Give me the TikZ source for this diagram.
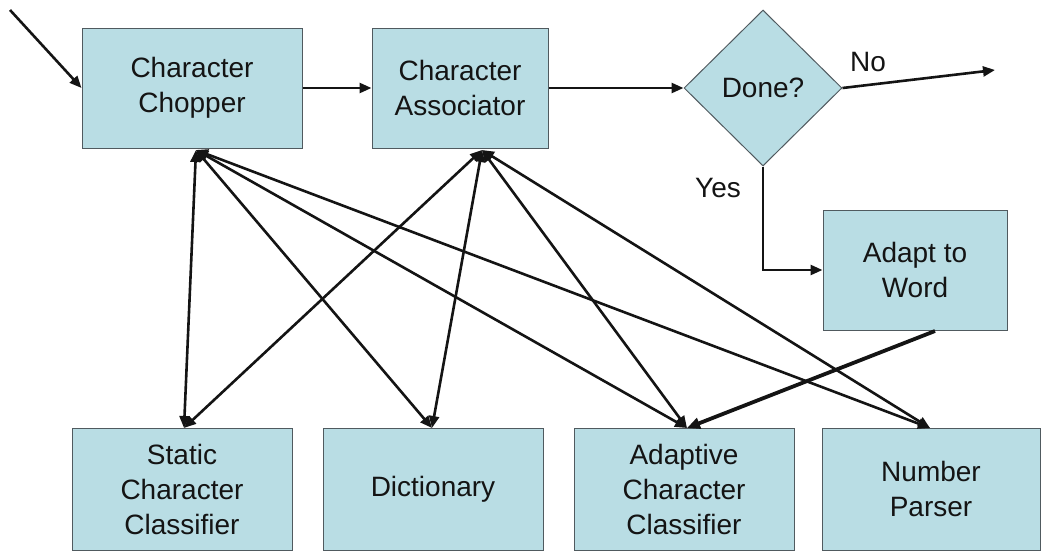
\documentclass[tikz,border=0pt]{standalone}
\usepackage{fontspec}
\setmainfont{Liberation Sans}
\usetikzlibrary{arrows.meta,shapes.geometric}
\definecolor{boxfill}{RGB}{185,221,228}
\definecolor{boxline}{RGB}{80,90,95}
\definecolor{ink}{RGB}{20,20,20}
\begin{document}
\begin{tikzpicture}[x=1pt,y=-1pt,
  stage/.style={draw=boxline, line width=1pt, fill=boxfill, text=ink,
    font=\fontsize{28}{35}\selectfont, align=center, inner sep=0pt,
    minimum height=120pt},
  tag/.style={text=ink, font=\fontsize{28}{35}\selectfont, inner sep=0pt},
  flow/.style={draw=ink, line width=2.6pt, -{Triangle[length=12pt,width=10pt]}},
  link/.style={draw=ink, line width=2.6pt,
    {Triangle[length=12pt,width=10pt]}-{Triangle[length=12pt,width=10pt]}},
]
\useasboundingbox (0,0) rectangle (1041,552);

% processing stages
\node[stage, minimum width=220pt] (chop)  at (192,88)  {Character\\Chopper};
\node[stage, minimum width=176pt] (assoc) at (460,88)  {Character\\Associator};
\node[diamond, draw=boxline, line width=1pt, fill=boxfill, text=ink,
      font=\fontsize{28}{35}\selectfont, inner sep=0pt, aspect=1,
      minimum width=158pt, minimum height=156pt] (done) at (763,88) {Done?};
\node[stage, minimum width=184pt] (adapt) at (915,270) {Adapt to\\Word};

% knowledge sources
\node[stage, minimum width=220pt, minimum height=122pt] (static)   at (182,489) {Static\\Character\\Classifier};
\node[stage, minimum width=220pt, minimum height=122pt] (dict)     at (433,489) {Dictionary};
\node[stage, minimum width=220pt, minimum height=122pt] (adaptive) at (684,489) {Adaptive\\Character\\Classifier};
\node[stage, minimum width=218pt, minimum height=122pt] (number)   at (931,489) {Number\\Parser};

% branch labels
\node[tag] (nolbl)  at (868,62)  {No};
\node[tag] (yeslbl) at (718,188) {Yes};

% main flow
\coordinate (start) at (10,10);
\coordinate (noend) at (995,70);
\draw[flow] (start) -- (chop.west);
\draw[flow] (chop.east) -- (assoc.west);
\draw[flow] (assoc.east) -- (done.west);
\draw[flow] (done.east) -- (noend);
\draw[flow] (done.south) |- (adapt.west);

% hubs under the two upper stages and entry points of the lower boxes
\coordinate (chub) at (196,150);
\coordinate (ahub) at (482,150);
\coordinate (tstatic) at (184,428);
\coordinate (tdict)   at (432,428);
\coordinate (tadapt)  at (687,428);
\coordinate (tnumber) at (930,428);
\coordinate (afrom)   at (935,331);

\draw[link] (chub) -- (tstatic);
\draw[link] (chub) -- (tdict);
\draw[link] (chub) -- (tadapt);
\draw[link] (chub) -- (tnumber);
\draw[link] (ahub) -- (tstatic);
\draw[link] (ahub) -- (tdict);
\draw[link] (ahub) -- (tadapt);
\draw[link] (ahub) -- (tnumber);
\draw[draw=ink, line width=3.8pt, -{Triangle[length=13pt,width=11pt]}] (afrom) -- (tadapt);
\end{tikzpicture}
\end{document}
